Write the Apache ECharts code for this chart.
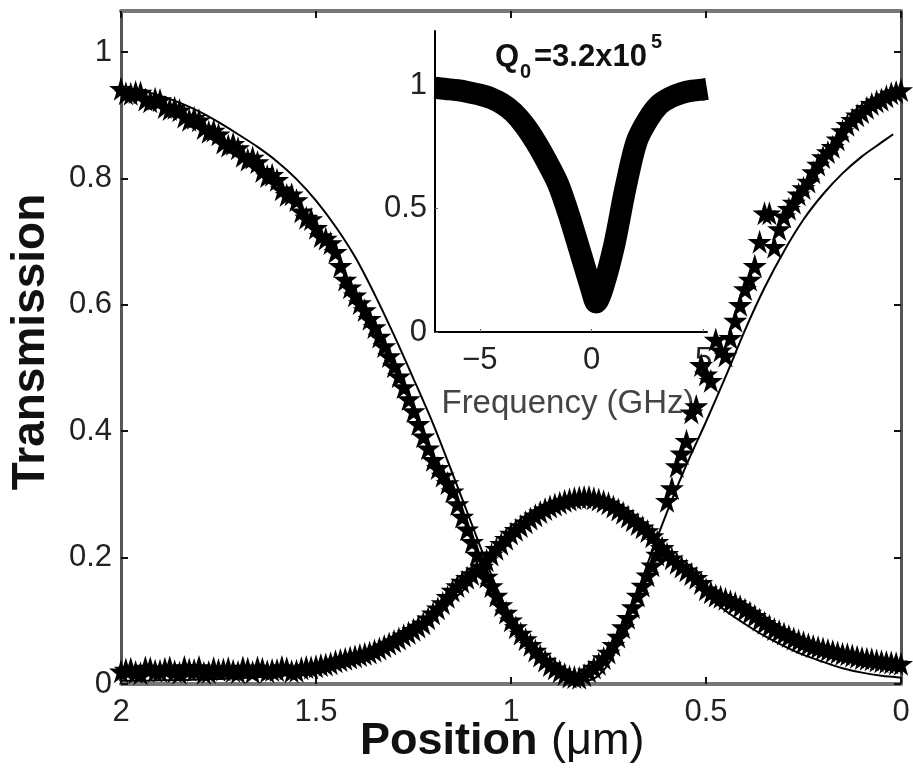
<!DOCTYPE html>
<html>
<head>
<meta charset="utf-8">
<title>Transmission vs position</title>
<script src="https://cdn.jsdelivr.net/npm/echarts@6/dist/echarts.min.js"></script>
<style>
  html, body { margin: 0; padding: 0; background: #fff; }
  #chart { width: 913px; height: 769px; }
</style>
</head>
<body>
<div id="chart"></div>
<script>
const positions = [
  2.000, 1.975, 1.950, 1.925, 1.900, 1.875, 1.850, 1.825, 1.800, 1.775,
  1.750, 1.725, 1.700, 1.675, 1.650, 1.625, 1.600, 1.575, 1.550, 1.525,
  1.500, 1.475, 1.450, 1.425, 1.400, 1.375, 1.350, 1.325, 1.300, 1.275,
  1.250, 1.225, 1.200, 1.175, 1.150, 1.125, 1.100, 1.075, 1.050, 1.025,
  1.000, 0.975, 0.950, 0.925, 0.900, 0.875, 0.850, 0.825, 0.800, 0.775,
  0.750, 0.725, 0.700, 0.675, 0.650, 0.625, 0.600, 0.575, 0.550, 0.525,
  0.500, 0.475, 0.450, 0.425, 0.400, 0.375, 0.350, 0.325, 0.300, 0.275,
  0.250, 0.225, 0.200, 0.175, 0.150, 0.125, 0.100, 0.075, 0.050, 0.025,
  0.000
];
// measured transmission, falling then rising branch (stars)
const throughMeasured = [
  0.942, 0.934, 0.936, 0.922, 0.924, 0.910, 0.908, 0.893, 0.892, 0.874,
  0.870, 0.852, 0.848, 0.830, 0.826, 0.804, 0.798, 0.774, 0.766, 0.738,
  0.722, 0.705, 0.684, 0.640, 0.615, 0.592, 0.565, 0.535, 0.503, 0.470,
  0.432, 0.392, 0.355, 0.330, 0.305, 0.265, 0.225, 0.185, 0.155, 0.125,
  0.101, 0.080, 0.062, 0.045, 0.030, 0.020, 0.012, 0.010, 0.020, 0.032,
  0.050, 0.075, 0.105, 0.140, 0.172, 0.205, 0.290, 0.345, 0.385, 0.440,
  0.490, 0.545, 0.520, 0.575, 0.625, 0.662, 0.745, 0.692, 0.740, 0.762,
  0.785, 0.810, 0.834, 0.850, 0.875, 0.893, 0.905, 0.918, 0.925, 0.935,
  0.940
];
// measured transmission, hump branch (stars)
const dropMeasured = [
  0.020, 0.024, 0.017, 0.025, 0.021, 0.026, 0.018, 0.023, 0.027, 0.019,
  0.022, 0.025, 0.019, 0.024, 0.026, 0.020, 0.022, 0.025, 0.021, 0.027,
  0.028, 0.031, 0.036, 0.040, 0.044, 0.048, 0.053, 0.060, 0.068, 0.077,
  0.086, 0.096, 0.112, 0.128, 0.148, 0.162, 0.174, 0.186, 0.205, 0.222,
  0.238, 0.250, 0.262, 0.272, 0.281, 0.287, 0.292, 0.295, 0.296, 0.292,
  0.286, 0.276, 0.265, 0.253, 0.242, 0.225, 0.206, 0.192, 0.180, 0.168,
  0.150, 0.140, 0.135, 0.128, 0.118, 0.108, 0.097, 0.087, 0.080, 0.072,
  0.066, 0.060, 0.056, 0.052, 0.048, 0.045, 0.041, 0.039, 0.036, 0.034,
  0.032
];

// second sweep of points lying between the first ones
const positions2 = [
  1.9875, 1.9625, 1.9375, 1.9125, 1.8875, 1.8625, 1.8375, 1.8125, 1.7875, 1.7625,
  1.7375, 1.7125, 1.6875, 1.6625, 1.6375, 1.6125, 1.5875, 1.5625, 1.5375, 1.5125,
  1.4875, 1.4625, 1.4375, 1.4125, 1.3875, 1.3625, 1.3375, 1.3125, 1.2875, 1.2625,
  1.2375, 1.2125, 1.1875, 1.1625, 1.1375, 1.1125, 1.0875, 1.0625, 1.0375, 1.0125,
  0.9875, 0.9625, 0.9375, 0.9125, 0.8875, 0.8625, 0.8375, 0.8125, 0.7875, 0.7625,
  0.7375, 0.7125, 0.6875, 0.6625, 0.6375, 0.6125, 0.5875, 0.5625, 0.5375, 0.5125,
  0.4875, 0.4625, 0.4375, 0.4125, 0.3875, 0.3625, 0.3375, 0.3125, 0.2875, 0.2625,
  0.2375, 0.2125, 0.1875, 0.1625, 0.1375, 0.1125, 0.0875, 0.0625, 0.0375, 0.0125
];
const throughMeasured2 = [
  0.935, 0.937, 0.925, 0.926, 0.913, 0.912, 0.898, 0.896, 0.880, 0.876,
  0.857, 0.855, 0.836, 0.833, 0.812, 0.806, 0.783, 0.775, 0.748, 0.736,
  0.709, 0.698, 0.662, 0.628, 0.603, 0.578, 0.550, 0.519, 0.487, 0.451,
  0.412, 0.373, 0.342, 0.318, 0.285, 0.245, 0.205, 0.170, 0.140, 0.113,
  0.090, 0.071, 0.053, 0.037, 0.025, 0.016, 0.011, 0.014, 0.026, 0.041,
  0.062, 0.090, 0.122, 0.156, 0.188, 0.215, 0.310, 0.365, 0.430, 0.505,
  0.480, 0.528, 0.548, 0.600, 0.640, 0.700, 0.745, 0.720, 0.752, 0.775,
  0.795, 0.822, 0.842, 0.862, 0.885, 0.900, 0.912, 0.922, 0.930, 0.937
];
const dropMeasured2 = [
  0.023, 0.019, 0.026, 0.021, 0.024, 0.020, 0.027, 0.022, 0.018, 0.025,
  0.023, 0.021, 0.026, 0.019, 0.024, 0.022, 0.027, 0.020, 0.025, 0.026,
  0.030, 0.033, 0.038, 0.042, 0.046, 0.050, 0.056, 0.064, 0.072, 0.081,
  0.091, 0.104, 0.120, 0.138, 0.155, 0.168, 0.180, 0.196, 0.214, 0.230,
  0.244, 0.256, 0.267, 0.277, 0.284, 0.290, 0.294, 0.296, 0.294, 0.289,
  0.281, 0.271, 0.259, 0.248, 0.234, 0.215, 0.199, 0.186, 0.174, 0.160,
  0.145, 0.138, 0.131, 0.123, 0.113, 0.102, 0.092, 0.084, 0.076, 0.069,
  0.063, 0.058, 0.054, 0.050, 0.047, 0.043, 0.040, 0.037, 0.035, 0.033
];

// model curves (solid lines)
const throughFitPositions = [
  2.00, 1.95, 1.90, 1.85, 1.80, 1.75, 1.70, 1.65, 1.60, 1.55,
  1.50, 1.45, 1.40, 1.35, 1.30, 1.25, 1.20, 1.15, 1.10, 1.05,
  1.00, 0.95, 0.90, 0.85, 0.80, 0.75, 0.70, 0.65, 0.60, 0.55,
  0.50, 0.45, 0.40, 0.35, 0.30, 0.25, 0.20, 0.15, 0.10, 0.05,
  0.02
];
const throughFit = [
  0.945, 0.939, 0.931, 0.920, 0.906, 0.889, 0.870, 0.850, 0.827, 0.799,
  0.765, 0.724, 0.676, 0.617, 0.552, 0.483, 0.412, 0.333, 0.252, 0.172,
  0.105, 0.056, 0.023, 0.006, 0.006, 0.032, 0.100, 0.190, 0.272, 0.347,
  0.415, 0.486, 0.560, 0.627, 0.685, 0.735, 0.775, 0.808, 0.835, 0.857,
  0.870
];
const dropFitPositions = [
  2.00, 1.95, 1.90, 1.85, 1.80, 1.75, 1.70, 1.65, 1.60, 1.55,
  1.50, 1.45, 1.40, 1.35, 1.30, 1.25, 1.20, 1.15, 1.10, 1.05,
  1.00, 0.95, 0.90, 0.85, 0.80, 0.75, 0.70, 0.65, 0.60, 0.55,
  0.50, 0.45, 0.40, 0.35, 0.30, 0.25, 0.20, 0.15, 0.10, 0.05,
  0.00
];
const dropFit = [
  0.005, 0.005, 0.006, 0.006, 0.007, 0.008, 0.009, 0.011, 0.013, 0.016,
  0.020, 0.027, 0.036, 0.048, 0.063, 0.082, 0.105, 0.132, 0.162, 0.195,
  0.228, 0.256, 0.276, 0.288, 0.292, 0.287, 0.272, 0.248, 0.215, 0.178,
  0.142, 0.116, 0.095, 0.076, 0.060, 0.046, 0.035, 0.025, 0.018, 0.013,
  0.010
];

// inset: resonance dip
const freqGHz = [-7.0, -6.5, -6.0, -5.5, -5.0, -4.5, -4.0, -3.5, -3.0, -2.5, -2.0, -1.5, -1.0, -0.5,
  0.0, 0.2, 0.5, 1.0, 1.5, 2.0, 2.5, 3.0, 3.5, 4.0, 4.5, 5.0, 5.15];
const insetT = [0.990, 0.985, 0.980, 0.972, 0.962, 0.948, 0.925, 0.890, 0.838, 0.770, 0.690, 0.600, 0.470, 0.320,
  0.170, 0.120, 0.180, 0.350, 0.580, 0.770, 0.860, 0.920, 0.950, 0.968, 0.978, 0.983, 0.985];

const xTicks = [2, 1.5, 1, 0.5, 0];
const yTicks = [0, 0.2, 0.4, 0.6, 0.8, 1];
const insetXTicks = [-5, 0, 5];
const insetYTicks = [0, 0.5, 1];

const FONT = '"Liberation Sans", Arial, Helvetica, sans-serif';
const star = 'path://M50,0 L61,35 L98,35 L68,57 L79,91 L50,70 L21,91 L32,57 L2,35 L39,35 Z';

function pairs(xs, ys) {
  return xs.map((x, i) => [x, ys[i]]);
}

function stars(data) {
  return {
    type: 'scatter', xAxisIndex: 0, yAxisIndex: 0,
    data: data,
    symbol: star, symbolSize: 24,
    itemStyle: { color: '#000', opacity: 1 }
  };
}

const chart = echarts.init(document.getElementById('chart'));

const mainTick = { show: true, inside: true, length: 7, lineStyle: { color: '#111', width: 2 } };

chart.setOption({
  animation: false,
  backgroundColor: '#fff',
  grid: [
    { left: 121, top: 11, right: 12, bottom: 85 },
    { left: 435, top: 31, width: 272, height: 301 }
  ],
  xAxis: [
    {
      gridIndex: 0, type: 'value', min: 0, max: 2, inverse: true, position: 'bottom',
      axisLine: { onZero: false, lineStyle: { color: '#777', width: 4 } },
      axisTick: Object.assign({ customValues: xTicks }, mainTick),
      axisLabel: { customValues: xTicks, fontSize: 31, color: '#222', margin: 13, fontFamily: FONT },
      splitLine: { show: false }
    },
    {
      gridIndex: 0, type: 'value', min: 0, max: 2, inverse: true, position: 'top',
      axisLine: { onZero: false, lineStyle: { color: '#777', width: 4 } },
      axisTick: Object.assign({ customValues: xTicks }, mainTick),
      axisLabel: { show: false },
      splitLine: { show: false }
    },
    {
      gridIndex: 1, type: 'value', min: -7, max: 5.15,
      axisLine: { onZero: false, lineStyle: { color: '#000', width: 2 } },
      axisTick: { inside: true, length: 3, customValues: insetXTicks, lineStyle: { color: '#666', width: 1 } },
      axisLabel: {
        customValues: insetXTicks, fontSize: 31, color: '#222', margin: 13, fontFamily: FONT,
        formatter: v => (v < 0 ? '\u2212' + Math.abs(v) : String(v))
      },
      splitLine: { show: false }
    }
  ],
  yAxis: [
    {
      gridIndex: 0, type: 'value', min: 0, max: 1.065,
      axisLine: { show: true, onZero: false, lineStyle: { color: '#555', width: 3 } },
      axisTick: Object.assign({ customValues: yTicks }, mainTick),
      axisLabel: {
        customValues: yTicks, fontSize: 31, color: '#222', margin: 9, fontFamily: FONT,
        formatter: v => String(+v.toFixed(1))
      },
      splitLine: { show: false }
    },
    {
      gridIndex: 0, type: 'value', min: 0, max: 1.065, position: 'right',
      axisLine: { show: true, onZero: false, lineStyle: { color: '#555', width: 3 } },
      axisTick: Object.assign({ customValues: yTicks }, mainTick),
      axisLabel: { show: false },
      splitLine: { show: false }
    },
    {
      gridIndex: 1, type: 'value', min: 0, max: 1.22,
      axisLine: { show: true, onZero: false, lineStyle: { color: '#000', width: 2 } },
      axisTick: { show: true, inside: true, length: 3, customValues: insetYTicks, lineStyle: { color: '#666', width: 1 } },
      axisLabel: {
        customValues: insetYTicks, fontSize: 31, color: '#222', margin: 8, fontFamily: FONT,
        formatter: v => String(+v.toFixed(1))
      },
      splitLine: { show: false }
    }
  ],
  series: [
    stars(pairs(positions, throughMeasured)),
    stars(pairs(positions2, throughMeasured2)),
    stars(pairs(positions, dropMeasured)),
    stars(pairs(positions2, dropMeasured2)),
    {
      type: 'line', xAxisIndex: 0, yAxisIndex: 0, z: 5,
      data: pairs(throughFitPositions, throughFit),
      showSymbol: false, smooth: 0.3,
      lineStyle: { color: '#000', width: 2 }
    },
    {
      type: 'line', xAxisIndex: 0, yAxisIndex: 0, z: 5,
      data: pairs(dropFitPositions, dropFit),
      showSymbol: false, smooth: 0.3,
      lineStyle: { color: '#000', width: 2 }
    },
    {
      type: 'line', xAxisIndex: 2, yAxisIndex: 2,
      data: pairs(freqGHz, insetT),
      showSymbol: false, smooth: 0.3, clip: false,
      lineStyle: { color: '#000', width: 22 }
    }
  ],
  graphic: [
    {
      type: 'text', x: 31, y: 342, rotation: Math.PI / 2,
      style: { text: 'Transmission', font: 'bold 46px ' + FONT, fill: '#111', align: 'center', verticalAlign: 'middle' }
    },
    {
      type: 'text', x: 360, y: 742,
      style: { text: 'Position', font: 'bold 45px ' + FONT, fill: '#111', align: 'left', verticalAlign: 'middle' }
    },
    {
      type: 'text', x: 551, y: 742,
      style: { text: '(\u03bcm)', font: '45px ' + FONT, fill: '#111', align: 'left', verticalAlign: 'middle' }
    },
    {
      type: 'text', x: 495, y: 57,
      style: { text: 'Q', font: 'bold 31px ' + FONT, fill: '#111', align: 'left', verticalAlign: 'middle' }
    },
    {
      type: 'text', x: 520, y: 72,
      style: { text: '0', font: 'bold 20px ' + FONT, fill: '#111', align: 'left', verticalAlign: 'middle' }
    },
    {
      type: 'text', x: 534, y: 57,
      style: { text: '=3.2x10', font: 'bold 31px ' + FONT, fill: '#111', align: 'left', verticalAlign: 'middle' }
    },
    {
      type: 'text', x: 651, y: 42,
      style: { text: '5', font: 'bold 20px ' + FONT, fill: '#111', align: 'left', verticalAlign: 'middle' }
    },
    {
      type: 'text', x: 568, y: 404,
      style: { text: 'Frequency (GHz)', font: '33px ' + FONT, fill: '#444', align: 'center', verticalAlign: 'middle' }
    }
  ]
});
</script>
</body>
</html>
